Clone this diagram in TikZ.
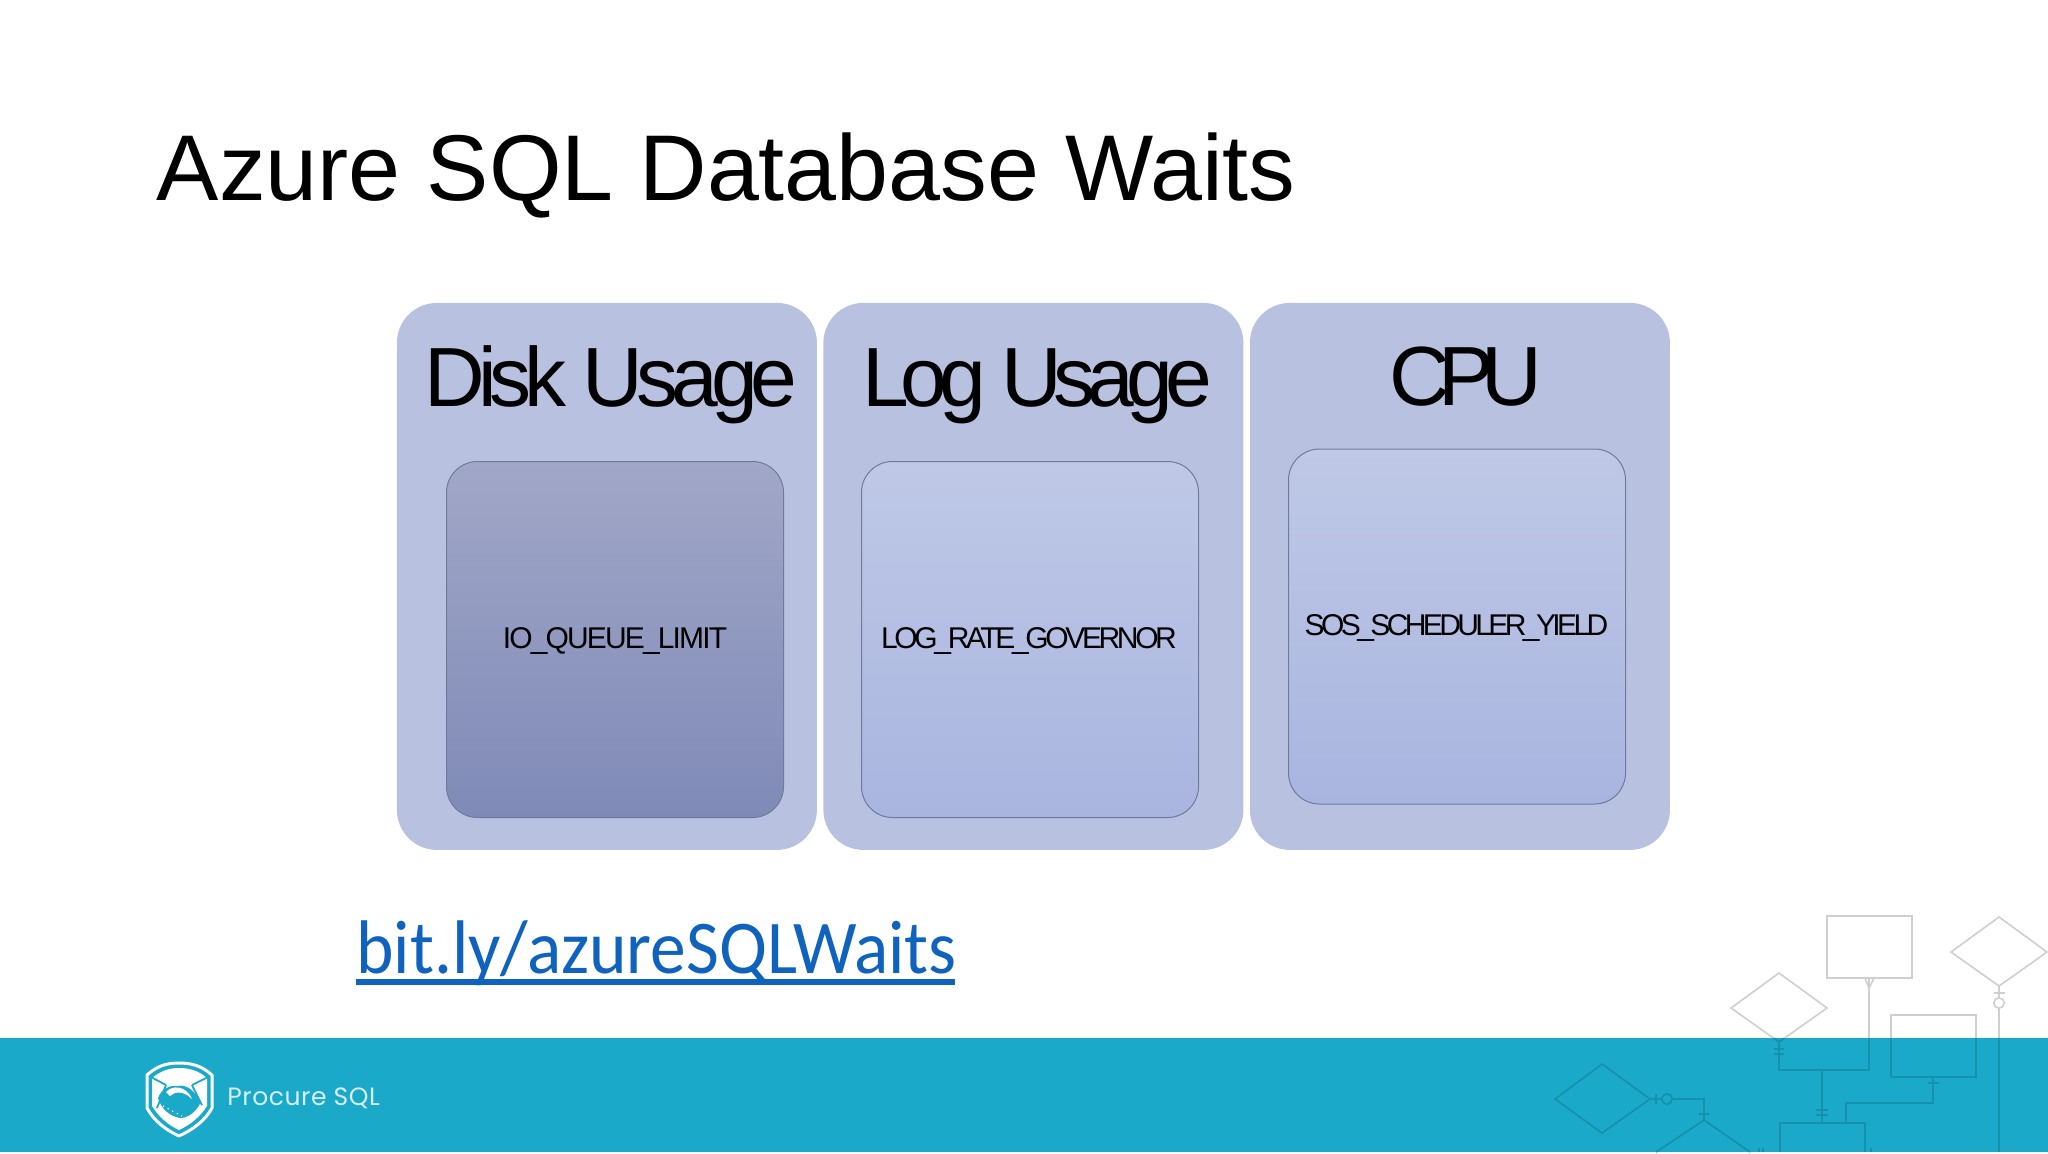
\documentclass[tikz,border=0pt]{standalone}
\usepackage{fontspec}
\setmainfont{Liberation Sans}
\newfontfamily\linkfont[FakeStretch=0.94]{Carlito}
\newfontfamily\brandfont[LetterSpace=2.2]{Poppins}
\newcommand{\hfnt}[2]{\fontspec{Liberation Sans}[LetterSpace=#2]\fontsize{#1}{#1}\selectfont}
\definecolor{outerblue}{HTML}{B8C2E0}
\definecolor{bandteal}{HTML}{1AA9C8}
\definecolor{inneredge}{HTML}{707A9C}
\definecolor{lineongrey}{HTML}{CFCFD3}
\definecolor{lineonband}{HTML}{1590AD}
\definecolor{linkblue}{HTML}{0F62BE}
\definecolor{brandtext}{HTML}{D8EEF4}
\tikzset{
  outerbox/.style={fill=outerblue,draw=none,rounded corners=20pt,minimum width=210pt,minimum height=273.5pt,inner sep=0pt,anchor=north west},
  innerbox/.style={draw=inneredge,line width=0.5pt,rounded corners=15.5pt,minimum width=168.5pt,inner sep=0pt,anchor=north west},
  darkfill/.style={top color=dkTop,bottom color=dkBot},
  lightfill/.style={top color=ltTop,bottom color=ltBot},
  headlabel/.style={anchor=base,inner sep=0pt,text=black},
  smalllabel/.style={anchor=base,inner sep=0pt,text=black},
  erline/.style={line width=0.8pt,line join=miter}
}
\definecolor{dkTop}{HTML}{A1A7C7}
\definecolor{dkBot}{HTML}{7F8AB7}
\definecolor{ltTop}{HTML}{BFC8E6}
\definecolor{ltBot}{HTML}{A9B5DF}
\newcommand{\erdraw}{%
  % rectangles
  \draw[erline] (1827,916) rectangle (1912,978);
  \draw[erline] (1891,1015) rectangle (1976,1077);
  \draw[erline] (1780,1152) -- (1780,1123) -- (1865,1123) -- (1865,1152);
  % diamonds
  \draw[erline] (1951,952) -- (1999,917) -- (2047,952) -- (1999,986) -- cycle;
  \draw[erline] (1731,1008) -- (1779,973) -- (1827,1008) -- (1779,1042) -- cycle;
  \draw[erline] (1555,1099) -- (1602,1064) -- (1650,1099) -- (1602,1133) -- cycle;
  \draw[erline] (1656,1152) -- (1704,1120) -- (1750,1152);
  % connectors
  \draw[erline] (1869,978) -- (1869,1070) -- (1779,1070) -- (1779,1042);
  \draw[erline] (1822,1070) -- (1822,1123);
  \draw[erline] (1933,1077) -- (1933,1103) -- (1846,1103) -- (1846,1123);
  \draw[erline] (1999,986) -- (1999,998) (1999,1008) -- (1999,1152);
  \draw[erline] (1999,1003) circle[radius=2.6pt];
  \draw[erline] (1650,1099) -- (1662,1099) (1672,1099) -- (1704,1099) -- (1704,1120);
  \draw[erline] (1667,1099) circle[radius=2.6pt];
  % ticks
  \draw[erline] (1994,993) -- (2005,993);
  \draw[erline] (1656,1094) -- (1656,1104);
  \draw[erline] (1699,1114) -- (1709,1114);
  \draw[erline] (1774,1049) -- (1784,1049) (1774,1054) -- (1784,1054);
  \draw[erline] (1816,1110) -- (1828,1110) (1816,1115) -- (1828,1115);
  \draw[erline] (1928,1083) -- (1939,1083);
  \draw[erline] (1865,978) -- (1869,988) -- (1874,978);
  \draw[erline] (1774,1038) -- (1779,1042) -- (1784,1038);
  \draw[erline] (1759,1148) -- (1759,1152) (1763,1148) -- (1763,1152);
  \draw[erline] (1871,1148) -- (1871,1152);
}
\begin{document}
\begin{tikzpicture}[x=0.5pt,y=-0.5pt]
\useasboundingbox (0,0) rectangle (2048,1153);
\fill[white] (0,0) rectangle (2048,1153);

% footer band
\fill[bandteal] (0,1038) rectangle (2048,1152);
\begin{scope}
  \clip (0,0) rectangle (2048,1038);
  \begin{scope}[color=lineongrey]\erdraw\end{scope}
\end{scope}
\begin{scope}
  \clip (0,1038) rectangle (2048,1152);
  \begin{scope}[color=lineonband]\erdraw\end{scope}
\end{scope}

% title
\node[anchor=base west,inner sep=0pt] (title) at (156.5,200) {\fontsize{46.7}{50}\selectfont Azure SQL Database Waits};

% columns
\node[outerbox] (diskbox) at (396.5,302.5) {};
\node[outerbox] (logbox)  at (823,302.5) {};
\node[outerbox] (cpubox)  at (1249.5,302.5) {};

\node[innerbox,darkfill,minimum height=178pt]  (diskinner) at (446,461) {};
\node[innerbox,lightfill,minimum height=178pt] (loginner)  at (861,461) {};
\node[innerbox,lightfill,minimum height=177.5pt] (cpuinner)  at (1288,448.5) {};

\node[headlabel] (disktitle) at (611,406) {\hfnt{42}{-8.4}Disk Usage};
\node[headlabel] (logtitle)  at (1037,406) {\hfnt{42}{-9.6}Log Usage};
\node[headlabel] (cputitle)  at (1466,405) {\hfnt{42}{-14.5}CPU};

\node[smalllabel] (diskwait) at (615,648) {\hfnt{15}{-6.2}IO\_QUEUE\_LIMIT};
\node[smalllabel] (logwait)  at (1029,648) {\hfnt{15}{-11.2}LOG\_RATE\_GOVERNOR};
\node[smalllabel] (cpuwait)  at (1456.5,635) {\hfnt{15}{-12}SOS\_SCHEDULER\_YIELD};

% link
\node[anchor=base west,inner sep=0pt,text=linkblue] (link) at (356,973) {\linkfont\fontsize{38}{40}\selectfont bit.ly/azureSQLWaits};
\fill[linkblue] (356,979) rectangle (955,985);

% logo
\draw[white,line width=1.5pt,line join=round] (147,1075) .. controls (158,1065) and (168,1063) .. (179,1063) .. controls (190,1063) and (201,1065) .. (212,1075) -- (212,1108) .. controls (205,1121) and (192,1130) .. (179,1136) .. controls (166,1130) and (154,1121) .. (147,1108) -- cycle;
\fill[white] (152,1078) .. controls (162,1070) and (170,1068) .. (179,1068) .. controls (188,1068) and (198,1070) .. (207,1078) -- (207,1106) .. controls (200,1117) and (190,1125) .. (179,1130) .. controls (168,1125) and (159,1117) .. (152,1106) -- cycle;
\fill[bandteal] (158,1098) .. controls (162,1088) and (170,1085) .. (178,1086) .. controls (186,1084) and (194,1090) .. (201,1102) .. controls (196,1112) and (188,1118) .. (180,1118) .. controls (170,1116) and (162,1110) .. (158,1098) -- cycle;
\draw[bandteal,line width=0.9pt] (151,1077) -- (166,1085) (208,1077) -- (192,1085) (166,1085) -- (157,1108) (192,1085) -- (202,1105);
\fill[white] (166,1092) .. controls (172,1085) and (186,1085) .. (192,1099) .. controls (184,1091) and (175,1091) .. (170,1096) -- cycle;
\draw[white,line width=0.6pt,dotted] (163,1106) -- (182,1116);

\node[anchor=base west,inner sep=0pt,text=brandtext] (brand) at (227,1105) {\brandfont\fontsize{12.5}{14}\selectfont Procure SQL};
\end{tikzpicture}
\end{document}
